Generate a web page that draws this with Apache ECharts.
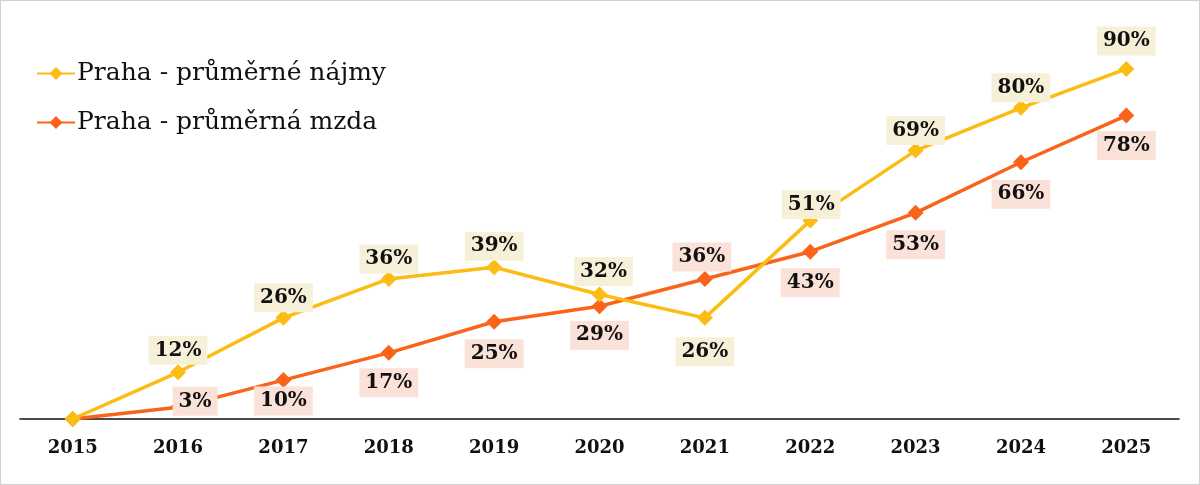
<!DOCTYPE html>
<html lang="cs">
  <head>
    <meta charset="UTF-8" />
    <title>Praha - nájmy a mzdy</title>
    <script src="https://cdn.jsdelivr.net/npm/echarts@6.0.0/dist/echarts.min.js"></script>
    <style>
      html, body { margin: 0; padding: 0; background: #fff; }
      #main { width: 1200px; height: 485px; box-sizing: border-box; border: 1px solid #d0d0d0; }
    </style>
  </head>
  <body>
    <div id="main"></div>
    <script>
      // data
      var years = ["2015", "2016", "2017", "2018", "2019", "2020", "2021", "2022", "2023", "2024", "2025"];
      var rentName = "Praha - průměrné nájmy";
      var wageName = "Praha - průměrná mzda";
      var rents = [0, 12, 26, 36, 39, 32, 26, 51, 69, 80, 90];
      var wages = [0, 3, 10, 17, 25, 29, 36, 43, 53, 66, 78];

      // label placement (offset of label centre from the point), first point has no label
      var rentOffsets = [null, [0, -22], [0, -20], [0, -20], [0, -21], [4, -23], [0, 34], [1, -16], [0, -20], [0, -20], [0, -28]];
      var wageOffsets = [null, [17, -6], [0, 21], [0, 30], [0, 32], [0, 29], [-3, -22], [0, 31], [0, 32], [0, 32], [0, 30]];

      var font = "DejaVu Serif";
      var yellow = "#fbbc14";
      var orange = "#f9631a";

      function labelStyle(bg) {
        return {
          show: true,
          position: "inside",
          fontFamily: font,
          fontWeight: "bold",
          fontSize: 20,
          lineHeight: 23,
          color: "#111",
          backgroundColor: bg,
          padding: [3, 6, 3, 6],
          formatter: function (p) { return p.value + "%"; }
        };
      }

      function buildData(values, offsets) {
        return values.map(function (v, i) {
          if (!offsets[i]) return { value: v, label: { show: false } };
          return { value: v, label: { offset: offsets[i] } };
        });
      }

      var chart = echarts.init(document.getElementById("main"));
      chart.setOption({
        animation: false,
        legend: {
          orient: "vertical",
          left: 30,
          top: 55,
          itemGap: 24,
          itemWidth: 38,
          itemHeight: 16,
          textStyle: { fontFamily: font, fontSize: 25, color: "#111", padding: [0, 0, 0, -3] },
          data: [rentName, wageName]
        },
        grid: { left: 19, right: 20, top: 29, bottom: 65 },
        xAxis: {
          type: "category",
          data: years,
          boundaryGap: true,
          axisLine: { lineStyle: { color: "#111", width: 1.5 } },
          axisTick: { show: false },
          axisLabel: { fontFamily: font, fontWeight: "bold", fontSize: 18, color: "#111", margin: 20 }
        },
        yAxis: { type: "value", min: 0, max: 100, show: false, splitLine: { show: false } },
        series: [
          {
            name: rentName,
            type: "line",
            data: buildData(rents, rentOffsets),
            symbol: "diamond",
            symbolSize: 16,
            lineStyle: { color: yellow, width: 3.5 },
            itemStyle: { color: yellow },
            label: labelStyle("#f7f0d8"),
            z: 3
          },
          {
            name: wageName,
            type: "line",
            data: buildData(wages, wageOffsets),
            symbol: "diamond",
            symbolSize: 16,
            lineStyle: { color: orange, width: 3.5 },
            itemStyle: { color: orange },
            label: labelStyle("#fbe2d9"),
            z: 2
          }
        ]
      });
    </script>
  </body>
</html>
